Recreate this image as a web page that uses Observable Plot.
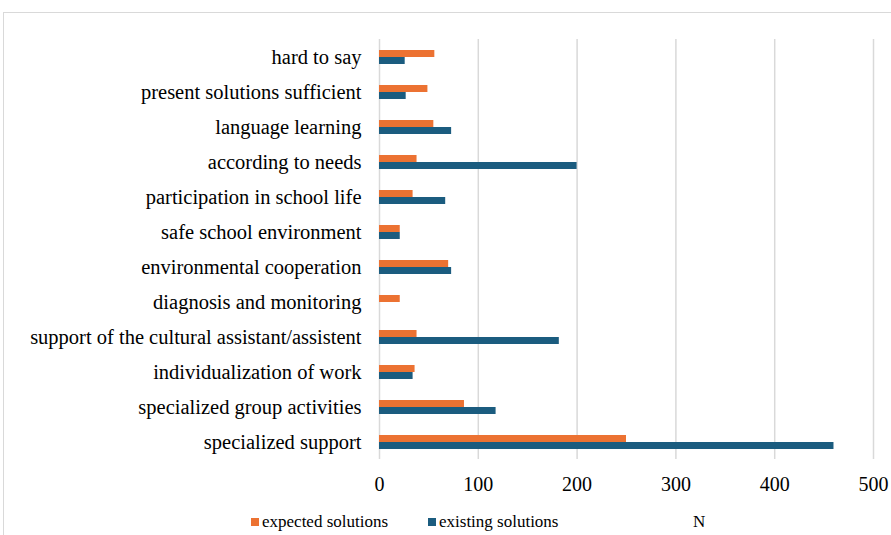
<!DOCTYPE html>
<html>
<head>
<meta charset="utf-8">
<script src="https://cdn.jsdelivr.net/npm/d3@7"></script>
<script src="https://cdn.jsdelivr.net/npm/@observablehq/plot@0.6"></script>
<style>
  html, body { margin: 0; padding: 0; background: #fff; }
  #wrap { position: relative; width: 891px; height: 535px; overflow: hidden; font-family: "Liberation Serif", "Times New Roman", serif; }
  #box { position: absolute; left: 3px; top: 12px; width: 1000px; height: 1000px; border: 1px solid #d9d9d9; }
  #chart { position: absolute; left: 0; top: 0; }
  #legend { position: absolute; top: 512px; left: 0; width: 891px; height: 23px; font-size: 17px; color: #000; }
  .item { position: absolute; top: 0; white-space: nowrap; }
  .sw { display: inline-block; width: 8px; height: 8px; margin-right: 3px; vertical-align: 1px; }
</style>
</head>
<body>
<div id="wrap">
  <div id="box"></div>
  <div id="chart"></div>
  <div id="legend">
    <span class="item" style="left:251px"><span class="sw" style="background:#EC7232"></span>expected solutions</span>
    <span class="item" style="left:428px"><span class="sw" style="background:#1B5C7F"></span>existing solutions</span>
    <span class="item" style="left:693px">N</span>
  </div>
</div>
<script>
const categories = [
  "hard to say",
  "present solutions sufficient",
  "language learning",
  "according to needs",
  "participation in school life",
  "safe school environment",
  "environmental cooperation",
  "diagnosis and monitoring",
  "support of the cultural assistant/assistent",
  "individualization of work",
  "specialized group activities",
  "specialized support"
];
const seriesNames = ["expected solutions", "existing solutions"];
const expected = [56, 49, 55, 38, 34, 21, 70, 21, 38, 36, 86, 250];
const existing = [26, 27, 73, 200, 67, 21, 73, 0, 182, 34, 118, 460];
const xTicks = [0, 100, 200, 300, 400, 500];
const colors = ["#EC7232", "#1B5C7F"];

const rows = [];
categories.forEach((c, i) => {
  rows.push({category: c, series: seriesNames[0], value: expected[i]});
  rows.push({category: c, series: seriesNames[1], value: existing[i]});
});

const chart = Plot.plot({
  width: 891,
  height: 500,
  marginLeft: 379,
  marginRight: 18,
  marginTop: 37,
  marginBottom: 39,
  style: {fontFamily: "'Liberation Serif', 'Times New Roman', serif", fontSize: "20px", color: "#000", background: "transparent"},
  x: {domain: [0, 500]},
  fy: {domain: categories, padding: 0},
  y: {domain: seriesNames, paddingInner: 0, paddingOuter: 1.29, axis: null},
  color: {domain: seriesNames, range: colors},
  marks: [
    Plot.gridX(xTicks, {stroke: "#d9d9d9", strokeOpacity: 1, strokeWidth: 1.5}),
    Plot.barX(rows, {fy: "category", y: "series", x: "value", fill: "series"}),
    Plot.axisX({ticks: xTicks, tickSize: 0, tickPadding: 17, fontSize: 20, label: null}),
    Plot.axisFy({anchor: "left", tickSize: 0, tickPadding: 18, fontSize: 20.5, label: null})
  ]
});
document.getElementById("chart").appendChild(chart);
</script>
</body>
</html>
